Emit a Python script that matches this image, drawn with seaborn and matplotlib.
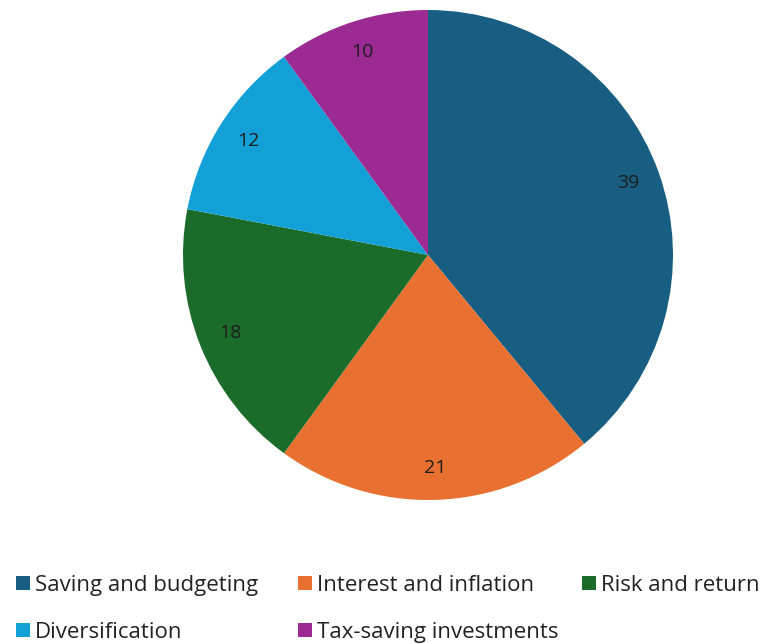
import matplotlib
matplotlib.use("Agg")
import matplotlib.pyplot as plt
from matplotlib.patches import Patch
import seaborn as sns

categories = ["Saving and budgeting", "Interest and inflation", "Risk and return",
              "Diversification", "Tax-saving investments"]
values = [39, 21, 18, 12, 10]
colors = ["#175E82", "#E87131", "#1B6B2A", "#12A0D7", "#9C2A93"]

sns.set_theme(style="white")
plt.rcParams["font.family"] = ["Open Sans", "DejaVu Sans"]

W, H = 761, 644
fig = plt.figure(figsize=(W / 100, H / 100), dpi=100)

cx, cy, r = 428, 644 - 255, 245
ax = fig.add_axes([(cx - r) / W, (cy - r) / H, 2 * r / W, 2 * r / H])

palette = sns.color_palette(colors)
wedges, texts = ax.pie(values, colors=palette, startangle=90, counterclock=False,
                       labels=[str(v) for v in values], labeldistance=0.87,
                       wedgeprops=dict(linewidth=0),
                       textprops=dict(fontsize=14, color="#1e1e1e"))
for t in texts:
    t.set_horizontalalignment("center")
    t.set_verticalalignment("center")
ax.set_xlim(-1, 1)
ax.set_ylim(-1, 1)
ax.set_aspect("equal")
ax.axis("off")

handles = [Patch(facecolor=c, edgecolor="none", label=l) for c, l in zip(palette, categories)]

# three legend columns, entries reading row by row
columns = [[0, 3], [1, 4], [2]]
col_x = [16, 298, 582]
for idx, x in zip(columns, col_x):
    leg = fig.legend([handles[i] for i in idx], [categories[i] for i in idx],
                     loc="upper left", bbox_to_anchor=(x / W, 1 - 575 / H),
                     frameon=False, fontsize=16, handlelength=0.63, handleheight=0.63,
                     handletextpad=0.22, labelspacing=1.17,
                     borderaxespad=0, borderpad=0)
    for t in leg.get_texts():
        t.set_color("#222222")

fig.savefig("out.png", dpi=100, facecolor="white")
